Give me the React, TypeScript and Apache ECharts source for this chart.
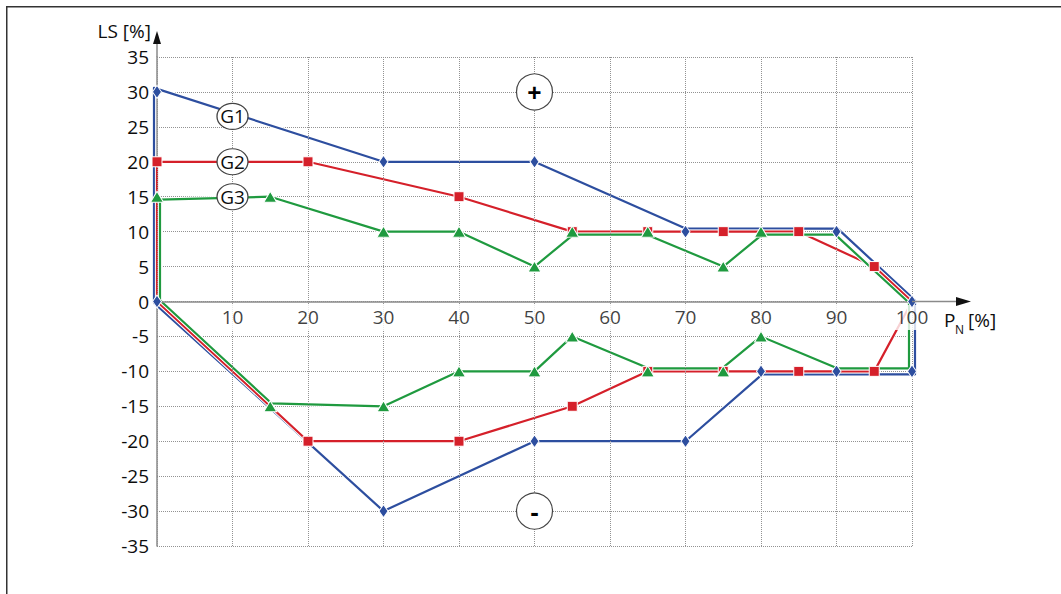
import React, { useEffect, useRef } from 'react';
import * as echarts from 'echarts';

// ---- data ----
const xMin = 0, xMax = 100, xStep = 10;
const yMin = -35, yMax = 35, yStep = 5;
const xTickLabels = [10, 20, 30, 40, 50, 60, 70, 80, 90, 100];

// closed outline of each characteristic (upper branch left->right, lower branch right->left)
const g1Path = [[0, 30], [30, 20], [50, 20], [70, 10], [90, 10], [100, 0], [100, -10], [90, -10], [80, -10], [70, -20], [50, -20], [30, -30], [0, 0]];
const g2Path = [[0, 20], [20, 20], [40, 15], [55, 10], [85, 10], [95, 5], [100, 0], [95, -10], [65, -10], [55, -15], [40, -20], [20, -20], [0, 0]];
const g3Path = [[0, 15], [15, 15], [30, 10], [40, 10], [50, 5], [55, 10], [65, 10], [75, 5], [80, 10], [90, 10], [100, 0], [100, -10], [90, -10], [80, -5], [75, -10], [65, -10], [55, -5], [50, -10], [40, -10], [30, -15], [15, -15], [0, 0]];

// which outline vertices are drawn shifted aside where outlines run together (style only)
const g1Shift = [1, 0, 0, 1, 1, 1, 1, 1, 1, 0, 0, 0, 1];
const g2Shift = [0, 0, 0, 0, 0, 0, 0, 0, 0, 0, 0, 0, 0];
const g3Shift = [1, 0, 0, 0, 0, 1, 1, 0, 1, 1, 1, 1, 1, 0, 1, 1, 0, 0, 0, 0, 1, 1];

const g1Markers = [[0, 30], [30, 20], [50, 20], [70, 10], [90, 10], [100, 0], [100, -10], [90, -10], [80, -10], [70, -20], [50, -20], [30, -30], [0, 0]];
const g2Markers = [[0, 20], [20, 20], [40, 15], [55, 10], [65, 10], [75, 10], [85, 10], [95, 5], [95, -10], [85, -10], [75, -10], [65, -10], [55, -15], [40, -20], [20, -20]];
const g3Markers = [[0, 15], [15, 15], [30, 10], [40, 10], [50, 5], [55, 10], [65, 10], [75, 5], [80, 10], [80, -5], [75, -10], [65, -10], [55, -5], [50, -10], [40, -10], [30, -15], [15, -15]];

const curveNames = ['G1', 'G2', 'G3'];
const curveLabelX = [10, 10, 10];
const curveLabelY = [26.5, 20, 15];
const signNames = ['+', '-'];
const signX = [50, 50];
const signY = [30, -30];

const BLUE = '#2d4e9f';
const RED = '#d5202a';
const GREEN = '#1f9a3f';
const TEXT = '#0d0d0d';
const FONT = 'Open Sans';

function makeRender(path: number[][], shift: number[], dist: number, color: string) {
  return (params: any, api: any) => {
    if (params.dataIndex !== 0) return null;
    const pts = path.map((p) => api.coord([p[0], p[1]]) as number[]);
    const n = pts.length;
    let area = 0;
    for (let i = 0; i < n; i++) {
      const a = pts[i], b = pts[(i + 1) % n];
      area += a[0] * b[1] - b[0] * a[1];
    }
    const s = area > 0 ? 1 : -1;
    const normal = (a: number[], b: number[]) => {
      const dx = b[0] - a[0], dy = b[1] - a[1];
      const l = Math.hypot(dx, dy) || 1;
      return s > 0 ? [dy / l, -dx / l] : [-dy / l, dx / l];
    };
    const out = pts.map((p, i) => {
      if (!shift[i] || !dist) return p;
      const a = pts[(i - 1 + n) % n], b = pts[(i + 1) % n];
      const n1 = normal(a, p), n2 = normal(p, b);
      let mx = n1[0] + n2[0], my = n1[1] + n2[1];
      const ml = Math.hypot(mx, my) || 1;
      mx /= ml; my /= ml;
      const c = mx * n1[0] + my * n1[1];
      const len = dist / Math.max(c, 0.5);
      return [p[0] + mx * len, p[1] + my * len];
    });
    return {
      type: 'group',
      children: [
        { type: 'polygon', shape: { points: out }, style: { fill: 'none', stroke: '#ffffff', lineWidth: 4.2, lineJoin: 'round' } },
        { type: 'polygon', shape: { points: out }, style: { fill: 'none', stroke: color, lineWidth: 2.2, lineJoin: 'round' } },
      ],
    };
  };
}

const ELLIPSE = 'path://M0,10a10,10 0 1,0 20,0a10,10 0 1,0 -20,0z';

export default function App() {
  const ref = useRef<HTMLDivElement>(null);
  useEffect(() => {
    if (!ref.current) return;
    const chart = echarts.init(ref.current, null, { renderer: 'svg' });
    const option: any = {
      animation: false,
      backgroundColor: '#ffffff',
      textStyle: { fontFamily: FONT },
      grid: { left: 157, right: 149, top: 57, bottom: 48, containLabel: false, outerBoundsMode: 'none' },
      xAxis: {
        type: 'value', min: xMin, max: xMax, interval: xStep, z: 3,
        axisLine: { show: true, onZero: true, lineStyle: { color: '#8a8a8a', width: 1.5 } },
        axisTick: { show: false },
        axisLabel: { show: false },
        splitLine: { show: true, lineStyle: { color: '#929292', type: 'dotted', width: 1 } },
      },
      yAxis: {
        type: 'value', min: yMin, max: yMax, interval: yStep,
        axisLine: { show: true, onZero: true, lineStyle: { color: '#8a8a8a', width: 1.5 } },
        axisTick: { show: false },
        axisLabel: { color: TEXT, fontSize: 19, fontFamily: FONT, margin: 8 },
        splitLine: { show: true, lineStyle: { color: '#929292', type: 'dotted', width: 1 } },
      },
      series: [
        { type: 'custom', name: 'G1 line', data: g1Path, encode: { x: 0, y: 1 }, renderItem: makeRender(g1Path, g1Shift, 3, BLUE), z: 2, silent: true },
        { type: 'custom', name: 'G2 line', data: g2Path, encode: { x: 0, y: 1 }, renderItem: makeRender(g2Path, g2Shift, 0, RED), z: 2, silent: true },
        { type: 'custom', name: 'G3 line', data: g3Path, encode: { x: 0, y: 1 }, renderItem: makeRender(g3Path, g3Shift, -3, GREEN), z: 2, silent: true },
        {
          type: 'scatter', name: 'x labels', z: 3, silent: true,
          data: xTickLabels.map((v) => ({ name: String(v), value: [v, 0] })),
          symbol: 'circle', symbolSize: 1,
          itemStyle: { color: 'rgba(0,0,0,0)' },
          label: {
            show: true, position: 'bottom', distance: 3, formatter: (p: any) => p.name,
            color: TEXT, fontSize: 19, fontFamily: FONT,
            backgroundColor: '#ffffff', padding: [2, 3, 4, 3],
          },
        },
        { type: 'scatter', name: 'G2', data: g2Markers, symbol: 'rect', symbolSize: 10, itemStyle: { color: RED, borderColor: '#fff', borderWidth: 1, opacity: 1 }, z: 5 },
        { type: 'scatter', name: 'G3', data: g3Markers, symbol: 'triangle', symbolSize: [13, 11], itemStyle: { color: GREEN, borderColor: '#fff', borderWidth: 1, opacity: 1 }, z: 5 },
        { type: 'scatter', name: 'G1', data: g1Markers, symbol: 'diamond', symbolSize: [9, 13], itemStyle: { color: BLUE, borderColor: '#fff', borderWidth: 1, opacity: 1 }, z: 5 },
        {
          type: 'scatter', name: 'labels', z: 6,
          data: curveNames.map((nm, i) => ({ name: nm, value: [curveLabelX[i], curveLabelY[i]] })),
          symbol: ELLIPSE, symbolSize: [31, 26],
          itemStyle: { color: '#ffffff', borderColor: '#444444', borderWidth: 1.2, opacity: 1 },
          label: { show: true, position: 'inside', formatter: (p: any) => p.name, color: TEXT, fontSize: 19, fontFamily: FONT },
        },
        {
          type: 'scatter', name: 'signs', z: 6,
          data: signNames.map((nm, i) => ({ name: nm, value: [signX[i], signY[i]] })),
          symbol: 'circle', symbolSize: 36,
          itemStyle: { color: '#ffffff', borderColor: '#444444', borderWidth: 1.2, opacity: 1 },
          label: { show: true, position: 'inside', formatter: (p: any) => p.name, color: '#000000', fontSize: 25, fontWeight: 'bold', fontFamily: FONT },
        },
      ],
    };
    chart.setOption(option);

    const r = chart.convertToPixel({ gridIndex: 0 } as any, [xMax, 0]) as number[];
    const t = chart.convertToPixel({ gridIndex: 0 } as any, [xMin, yMax]) as number[];
    const axisGray = '#8a8a8a';
    chart.setOption({
      graphic: [
        { type: 'polyline', z: 20, shape: { points: [[6.75, 600], [6.75, 6.75], [1070, 6.75]] }, style: { fill: 'none', stroke: '#333333', lineWidth: 1.5 } },
        { type: 'line', z: 20, shape: { x1: r[0], y1: r[1], x2: r[0] + 45, y2: r[1] }, style: { stroke: axisGray, lineWidth: 1.5 } },
        { type: 'polygon', z: 20, shape: { points: [[r[0] + 44, r[1] - 4.5], [r[0] + 59, r[1]], [r[0] + 44, r[1] + 4.5]] }, style: { fill: '#111111' } },
        { type: 'line', z: 20, shape: { x1: t[0], y1: t[1], x2: t[0], y2: t[1] - 15 }, style: { stroke: axisGray, lineWidth: 1.5 } },
        { type: 'polygon', z: 20, shape: { points: [[t[0] - 4, t[1] - 13], [t[0], t[1] - 26], [t[0] + 4, t[1] - 13]] }, style: { fill: '#111111' } },
        { type: 'text', z: 20, x: t[0] - 6, y: t[1] - 26, style: { text: 'LS [%]', align: 'right', verticalAlign: 'middle', fontSize: 19, fontFamily: FONT, fill: TEXT } },
        { type: 'text', z: 20, x: r[0] + 32, y: r[1] + 18, style: { text: 'P', align: 'left', verticalAlign: 'middle', fontSize: 19, fontFamily: FONT, fill: TEXT } },
        { type: 'text', z: 20, x: r[0] + 43, y: r[1] + 28, style: { text: 'N', align: 'left', verticalAlign: 'middle', fontSize: 12, fontFamily: FONT, fill: TEXT } },
        { type: 'text', z: 20, x: r[0] + 56, y: r[1] + 18, style: { text: '[%]', align: 'left', verticalAlign: 'middle', fontSize: 19, fontFamily: FONT, fill: TEXT } },
      ],
    });
    return () => chart.dispose();
  }, []);
  return <div ref={ref} style={{ position: 'absolute', left: 0, top: 0, width: 1061, height: 594 }} />;
}
